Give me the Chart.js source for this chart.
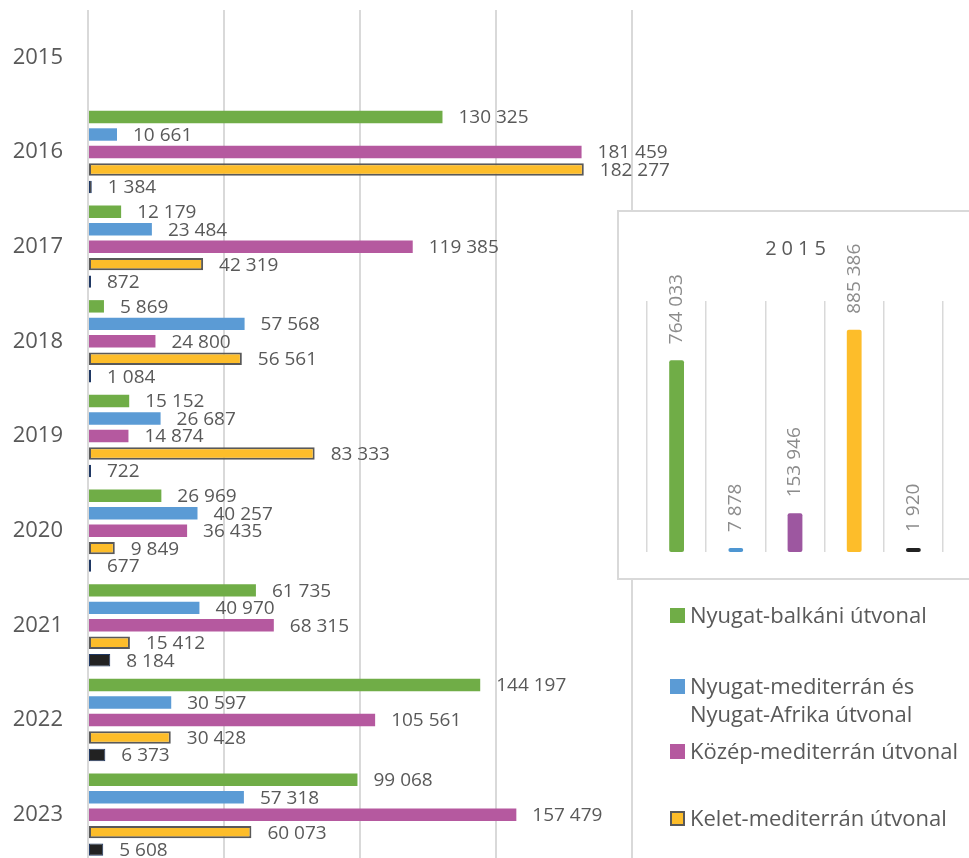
<!DOCTYPE html>
<html lang="hu">
<head>
<meta charset="utf-8">
<title>Útvonalak</title>
<script src="https://cdn.jsdelivr.net/npm/chart.js@4.4.1/dist/chart.umd.min.js"></script>
<style>
  html, body { margin: 0; padding: 0; background: #fff; width: 969px; height: 858px; overflow: hidden; }
  body { position: relative; font-family: "Open Sans", sans-serif; color: #595959; }
  #mainChart { position: absolute; left: 0; top: 0; }
  #insetBox {
    position: absolute; left: 617px; top: 210px; width: 360px; height: 370px;
    box-sizing: border-box; border: 2px solid #d9d9d9; background: #fff;
  }
  #insetChart { position: absolute; left: 0; top: 0; }
  #insetTitle {
    position: absolute; left: 0; top: 22px; width: 348px; padding-left: 5px;
    text-align: center; font-size: 20px; letter-spacing: 5px; color: #595959;
  }
  #legend { position: absolute; left: 670px; top: 0; width: 299px; }
  .item { position: absolute; left: 0; display: flex; align-items: flex-start; width: 299px; }
  .swatch { flex: 0 0 auto; width: 15px; height: 15px; margin: 8px 5px 0 0; box-sizing: border-box; }
  .text { font-size: 22px; line-height: 28px; width: 279px; }
</style>
</head>
<body>
<canvas id="mainChart" width="969" height="870"></canvas>
<div id="insetBox">
  <canvas id="insetChart" width="356" height="366"></canvas>
  <div id="insetTitle">2015</div>
</div>
<div id="legend"></div>

<script>
// years on the main chart; 2015 is shown separately in the inset
const years = ['2015', '2016', '2017', '2018', '2019', '2020', '2021', '2022', '2023'];

const routeNames = [
  'Nyugat-balkáni útvonal',
  'Nyugat-mediterrán és Nyugat-Afrika útvonal',
  'Közép-mediterrán útvonal',
  'Kelet-mediterrán útvonal',
  'Keleti szárazföldi útvonal',
];

const nyugatBalkani = [null, 130325, 12179, 5869, 15152, 26969, 61735, 144197, 99068];
const nyugatMediterran = [null, 10661, 23484, 57568, 26687, 40257, 40970, 30597, 57318];
const kozepMediterran = [null, 181459, 119385, 24800, 14874, 36435, 68315, 105561, 157479];
const keletMediterran = [null, 182277, 42319, 56561, 83333, 9849, 15412, 30428, 60073];
const keletiSzarazfoldi = [null, 1384, 872, 1084, 722, 677, 8184, 6373, 5608];

// 2015, one value per route (same order as routeNames)
const values2015 = [764033, 7878, 153946, 885386, 1920];

const fills = ['#70ad47', '#5b9bd5', '#b5599f', '#fdbd2a', '#222222'];
const insetFills = ['#70ad47', '#4e96d2', '#9d57a0', '#fdbd2a', '#222222'];
const borders = [null, null, null, '#595959', '#1f3864'];

const GRID = '#d9d9d9';
const FONT = '"Open Sans", sans-serif';

function fmt(v) {
  return String(v).replace(/\B(?=(\d{3})+(?!\d))/g, ' ');
}

// draws the value next to each bar (horizontal) or above it, rotated (vertical)
const valueLabels = {
  id: 'valueLabels',
  afterDatasetsDraw(chart, args, opts) {
    const ctx = chart.ctx;
    ctx.save();
    ctx.font = `${opts.size}px ${FONT}`;
    ctx.fillStyle = opts.color;
    chart.data.datasets.forEach((ds, i) => {
      chart.getDatasetMeta(i).data.forEach((bar, j) => {
        const v = ds.data[j];
        if (v === null || v === undefined) return;
        if (opts.vertical) {
          ctx.save();
          ctx.translate(bar.x, bar.y - opts.offset);
          ctx.rotate(-Math.PI / 2);
          ctx.textAlign = 'left';
          ctx.textBaseline = 'middle';
          ctx.fillText(fmt(v), 0, 0);
          ctx.restore();
        } else {
          ctx.textAlign = 'left';
          ctx.textBaseline = 'middle';
          ctx.fillText(fmt(v), bar.x + opts.offset, bar.y + 1);
        }
      });
    });
    ctx.restore();
  }
};

const mainSeries = [nyugatBalkani, nyugatMediterran, kozepMediterran, keletMediterran, keletiSzarazfoldi];

new Chart(document.getElementById('mainChart'), {
  type: 'bar',
  data: {
    labels: years,
    datasets: mainSeries.map((data, i) => ({
      label: routeNames[i],
      data: data,
      backgroundColor: fills[i],
      borderColor: borders[i] || fills[i],
      borderWidth: borders[i] ? (i === 3 ? 2 : 1) : 0,
      borderSkipped: false,
      minBarLength: i === 4 ? 3 : 0,
      categoryPercentage: 0.924,
      barPercentage: 0.71,
    })),
  },
  options: {
    responsive: false,
    animation: false,
    indexAxis: 'y',
    layout: { padding: { top: 10, right: 337, bottom: 8, left: 0 } },
    plugins: {
      legend: { display: false },
      tooltip: { enabled: false },
      valueLabels: { size: 19, color: '#595959', offset: 16 },
    },
    scales: {
      x: {
        min: 0,
        max: 200000,
        ticks: { display: false, stepSize: 50000 },
        grid: { color: GRID, lineWidth: 2, drawTicks: false },
        border: { display: false },
        afterFit: (s) => { s.height = 0; },
      },
      y: {
        ticks: { color: '#595959', font: { family: FONT, size: 22 }, padding: 17 },
        grid: { display: false },
        border: { display: false },
        afterFit: (s) => {
          s.width = 88;
          // don't let the tick labels shrink the plot vertically
          s.paddingTop = 0;
          s.paddingBottom = 0;
        },
      },
    },
  },
  plugins: [valueLabels],
});

new Chart(document.getElementById('insetChart'), {
  type: 'bar',
  data: {
    labels: routeNames,
    datasets: [{
      label: '2015',
      data: values2015,
      backgroundColor: insetFills,
      borderWidth: 0,
      borderRadius: 2,
      borderSkipped: false,
      minBarLength: 4,
      categoryPercentage: 1,
      barPercentage: 0.25,
    }],
  },
  options: {
    responsive: false,
    animation: false,
    layout: { padding: { top: 89, right: 32, bottom: 26, left: 28 } },
    plugins: {
      legend: { display: false },
      tooltip: { enabled: false },
      valueLabels: { size: 19, color: '#8c8c8c', offset: 16, vertical: true },
    },
    scales: {
      x: {
        ticks: { display: false },
        grid: { color: GRID, lineWidth: 1.5, drawTicks: false, offset: true },
        border: { display: false },
        afterFit: (s) => { s.height = 0; },
      },
      y: { display: false, min: 0, max: 1000000 },
    },
  },
  plugins: [valueLabels],
});

// legend: only the entries visible in the original are listed
const legendTops = [600, 671, 736, 803];
const legend = document.getElementById('legend');
legendTops.forEach((top, i) => {
  const item = document.createElement('div');
  item.className = 'item';
  item.style.top = top + 'px';
  const sw = document.createElement('span');
  sw.className = 'swatch';
  sw.style.background = fills[i];
  if (borders[i]) sw.style.border = '2px solid ' + borders[i];
  const txt = document.createElement('span');
  txt.className = 'text';
  txt.textContent = routeNames[i];
  item.appendChild(sw);
  item.appendChild(txt);
  legend.appendChild(item);
});
</script>
</body>
</html>
